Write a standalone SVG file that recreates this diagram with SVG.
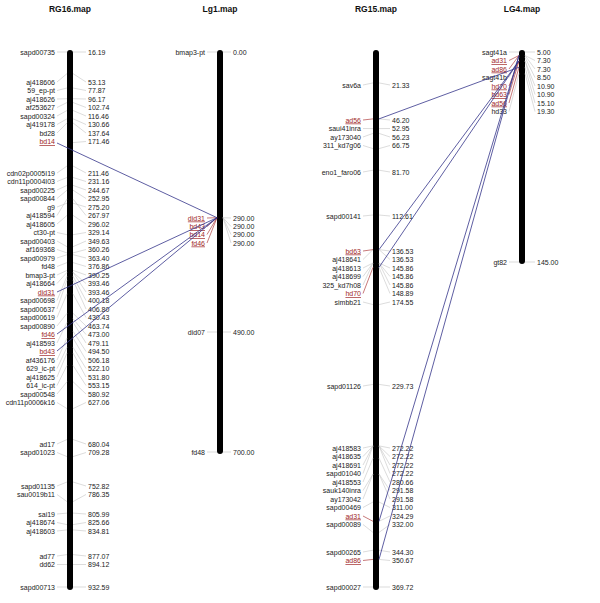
<svg xmlns="http://www.w3.org/2000/svg" width="600" height="603" viewBox="0 0 600 603">
<style>
text{font-family:"Liberation Sans",Arial,sans-serif;font-size:7px;fill:#222}
.t{font-size:8.5px;font-weight:bold;text-anchor:middle;fill:#111}
.l{text-anchor:end}
.r{fill:#a02828;text-decoration:underline}
.k{stroke:#c4c4c4;stroke-width:0.6;fill:none}
.kr{stroke:#b04040;stroke-width:0.7;fill:none}
.bar{fill:#000}
.c{stroke:#35358a;stroke-width:0.8;fill:none}
</style>
<rect width="600" height="603" fill="#fff"/>
<g id="RG16">
<text class="t" x="70" y="12">RG16.map</text>
<rect class="bar" x="67" y="50" width="6" height="540" rx="3"/>
<g class="k">
<path d="M57 52L67 52M73 52L86 52M57 82L67 73.6M73 73.6L86 82M57 90.5L67 88M73 88L86 90.5M57 99L67 98.7M73 98.7L86 99M57 107.5L67 102.5M73 102.5L86 107.5M57 116L67 110.5M73 110.5L86 116M57 124.5L67 118.8M73 118.8L86 124.5M57 133L67 122.9M73 122.9L86 133M73 142.6L86 141.5"/>
<path d="M57 173L67 166M73 166L86 173M57 181.5L67 177.5M73 177.5L86 181.5M57 190L67 185.4M73 185.4L86 190M57 198.5L67 190.2M73 190.2L86 198.5M57 207L67 203.2M73 203.2L86 207M57 215.5L67 199M73 199L86 215.5M57 224L67 215.4M73 215.4L86 224M57 232.5L67 234.7M73 234.7L86 232.5M57 241L67 246.7M73 246.7L86 241M57 249.5L67 252.9M73 252.9L86 249.5M57 258L67 254.7M73 254.7L86 258M57 266.5L67 262.6M73 262.6L86 266.5M57 275L67 270.4M73 270.4L86 275M57 283.5L67 272.3M73 272.3L86 283.5M73 272.3L86 292M57 300.5L67 276.2M73 276.2L86 300.5M57 309L67 280M73 280L86 309M57 317.5L67 293.8M73 293.8L86 317.5M57 326L67 313.3M73 313.3L86 326M73 318.7L86 334.5M57 343L67 322.3M73 322.3L86 343M73 331.2L86 351.5M57 360L67 338M73 338L86 360M57 368.5L67 347.3M73 347.3L86 368.5M57 377L67 353M73 353L86 377M57 385.5L67 365.4M73 365.4L86 385.5M57 394L67 381.7M73 381.7L86 394M57 402.5L67 408.6M73 408.6L86 402.5"/>
<path d="M57 444L67 439.5M73 439.5L86 444M57 452.5L67 456.6M73 456.6L86 452.5M57 486L67 482M73 482L86 486M57 494.5L67 501.6M73 501.6L86 494.5M57 514L67 513.1M73 513.1L86 514M57 522.5L67 524.6M73 524.6L86 522.5M57 531L67 529.9M73 529.9L86 531M57 556L67 554.6M73 554.6L86 556M57 564.5L67 564.5M73 564.5L86 564.5M57 587L67 587M73 587L86 587"/>
</g>
<g>
<text class="l" x="55" y="54.5">sapd00735</text><text x="88" y="54.5">16.19</text>
<text class="l" x="55" y="84.5">aj418606</text><text x="88" y="84.5">53.13</text>
<text class="l" x="55" y="93">59_ep-pt</text><text x="88" y="93">77.87</text>
<text class="l" x="55" y="101.5">aj418626</text><text x="88" y="101.5">96.17</text>
<text class="l" x="55" y="110">af253627</text><text x="88" y="110">102.74</text>
<text class="l" x="55" y="118.5">sapd00324</text><text x="88" y="118.5">116.46</text>
<text class="l" x="55" y="127">aj419178</text><text x="88" y="127">130.66</text>
<text class="l" x="55" y="135.5">bd28</text><text x="88" y="135.5">137.64</text>
<text class="l r" x="55" y="144">bd14</text><text x="88" y="144">171.46</text>
<text class="l" x="55" y="175.5">cdn02p0005I19</text><text x="88" y="175.5">211.46</text>
<text class="l" x="55" y="184">cdn11p0004I03</text><text x="88" y="184">231.16</text>
<text class="l" x="55" y="192.5">sapd00225</text><text x="88" y="192.5">244.67</text>
<text class="l" x="55" y="201">sapd00844</text><text x="88" y="201">252.95</text>
<text class="l" x="55" y="209.5">g9</text><text x="88" y="209.5">275.20</text>
<text class="l" x="55" y="218">aj418594</text><text x="88" y="218">267.97</text>
<text class="l" x="55" y="226.5">aj418605</text><text x="88" y="226.5">296.02</text>
<text class="l" x="55" y="235">ct30-pt</text><text x="88" y="235">329.14</text>
<text class="l" x="55" y="243.5">sapd00403</text><text x="88" y="243.5">349.63</text>
<text class="l" x="55" y="252">af169368</text><text x="88" y="252">360.26</text>
<text class="l" x="55" y="260.5">sapd00979</text><text x="88" y="260.5">363.40</text>
<text class="l" x="55" y="269">fd48</text><text x="88" y="269">376.86</text>
<text class="l" x="55" y="277.5">bmap3-pt</text><text x="88" y="277.5">390.25</text>
<text class="l" x="55" y="286">aj418664</text><text x="88" y="286">393.46</text>
<text class="l r" x="55" y="294.5">did31</text><text x="88" y="294.5">393.46</text>
<text class="l" x="55" y="303">sapd00698</text><text x="88" y="303">400.18</text>
<text class="l" x="55" y="311.5">sapd00637</text><text x="88" y="311.5">406.80</text>
<text class="l" x="55" y="320">sapd00619</text><text x="88" y="320">430.43</text>
<text class="l" x="55" y="328.5">sapd00890</text><text x="88" y="328.5">463.74</text>
<text class="l r" x="55" y="337">fd46</text><text x="88" y="337">473.00</text>
<text class="l" x="55" y="345.5">aj418593</text><text x="88" y="345.5">479.11</text>
<text class="l r" x="55" y="354">bd43</text><text x="88" y="354">494.50</text>
<text class="l" x="55" y="362.5">af436176</text><text x="88" y="362.5">506.18</text>
<text class="l" x="55" y="371">629_ic-pt</text><text x="88" y="371">522.10</text>
<text class="l" x="55" y="379.5">aj418625</text><text x="88" y="379.5">531.80</text>
<text class="l" x="55" y="388">614_ic-pt</text><text x="88" y="388">553.15</text>
<text class="l" x="55" y="396.5">sapd00548</text><text x="88" y="396.5">580.92</text>
<text class="l" x="55" y="405">cdn11p0006k16</text><text x="88" y="405">627.06</text>
<text class="l" x="55" y="446.5">ad17</text><text x="88" y="446.5">680.04</text>
<text class="l" x="55" y="455">sapd01023</text><text x="88" y="455">709.28</text>
<text class="l" x="55" y="488.5">sapd01135</text><text x="88" y="488.5">752.82</text>
<text class="l" x="55" y="497">sau0019b11</text><text x="88" y="497">786.35</text>
<text class="l" x="55" y="516.5">sai19</text><text x="88" y="516.5">805.99</text>
<text class="l" x="55" y="525">aj418674</text><text x="88" y="525">825.66</text>
<text class="l" x="55" y="533.5">aj418603</text><text x="88" y="533.5">834.81</text>
<text class="l" x="55" y="558.5">ad77</text><text x="88" y="558.5">877.07</text>
<text class="l" x="55" y="567">dd62</text><text x="88" y="567">894.12</text>
<text class="l" x="55" y="589.5">sapd00713</text><text x="88" y="589.5">932.59</text>
</g>
</g>
<g id="Lg1">
<text class="t" x="220" y="12">Lg1.map</text>
<rect class="bar" x="217" y="50" width="6" height="404" rx="3"/>
<g class="k"><path d="M207 52L217 52M223 52L231 52M223 217.7L231 218M223 217.7L231 226.5M223 217.7L231 234.5M223 217.7L231 243M207 332L217 332M223 332L231 332M207 452L217 452M223 452L231 452"/></g>
<g class="kr"><path d="M207 218L217 217.7M207 226.5L217 217.7M207 234.5L217 217.7M207 243L217 217.7"/></g>
<text class="l" x="205" y="54.5">bmap3-pt</text><text x="233" y="54.5">0.00</text>
<text class="l r" x="205" y="220.5">did31</text><text x="233" y="220.5">290.00</text>
<text class="l r" x="205" y="229">bd43</text><text x="233" y="229">290.00</text>
<text class="l r" x="205" y="237">bd14</text><text x="233" y="237">290.00</text>
<text class="l r" x="205" y="245.5">fd46</text><text x="233" y="245.5">290.00</text>
<text class="l" x="205" y="334.5">did07</text><text x="233" y="334.5">490.00</text>
<text class="l" x="205" y="454.5">fd48</text><text x="233" y="454.5">700.00</text>
</g>
<g id="RG15">
<text class="t" x="376" y="12">RG15.map</text>
<rect class="bar" x="373" y="50" width="6" height="540" rx="3"/>
<g class="k"><path d="M363 85L373 82.9M379 82.9L390 85M379 118.9L390 120M363 128.5L373 128.6M379 128.6L390 128.5M363 137L373 133.4M379 133.4L390 137M363 145.5L373 148.6M379 148.6L390 145.5M363 172L373 170.2M379 170.2L390 172M363 216L373 215M379 215L390 216M379 249.6L390 251M363 259.5L373 249.6M379 249.6L390 259.5M363 268L373 263M379 263L390 268M363 276.5L373 263M379 263L390 276.5M363 285L373 263M379 263L390 285M379 267.4L390 293.5M363 302L373 304.6M379 304.6L390 302M363 386L373 384.4M379 384.4L390 386M363 448L373 445.9M379 445.9L390 448M363 456.5L373 445.9M379 445.9L390 456.5M363 465L373 445.9M379 445.9L390 465M363 473.5L373 445.9M379 445.9L390 473.5M363 482L373 458.1M379 458.1L390 482M363 490.5L373 474M379 474L390 490.5M363 499L373 474M379 474L390 499M363 507.5L373 502M379 502L390 507.5M379 521.3L390 516M363 524.5L373 532.4M379 532.4L390 524.5M363 552L373 550.2M379 550.2L390 552M379 559.4L390 560.5M363 587L373 587M379 587L390 587"/></g>
<g class="kr"><path d="M363 120L373 118.9M363 251L373 249.6M363 293.5L373 267.4M363 516L373 521.3M363 560.5L373 559.4"/></g>
<text class="l" x="361" y="87.5">sav6a</text><text x="392" y="87.5">21.33</text>
<text class="l r" x="361" y="122.5">ad56</text><text x="392" y="122.5">46.20</text>
<text class="l" x="361" y="131">saui41inra</text><text x="392" y="131">52.95</text>
<text class="l" x="361" y="139.5">ay173040</text><text x="392" y="139.5">56.23</text>
<text class="l" x="361" y="148">311_kd7g06</text><text x="392" y="148">66.75</text>
<text class="l" x="361" y="174.5">eno1_faro06</text><text x="392" y="174.5">81.70</text>
<text class="l" x="361" y="218.5">sapd00141</text><text x="392" y="218.5">112.61</text>
<text class="l r" x="361" y="253.5">bd63</text><text x="392" y="253.5">136.53</text>
<text class="l" x="361" y="262">aj418641</text><text x="392" y="262">136.53</text>
<text class="l" x="361" y="270.5">aj418613</text><text x="392" y="270.5">145.86</text>
<text class="l" x="361" y="279">aj418699</text><text x="392" y="279">145.86</text>
<text class="l" x="361" y="287.5">325_kd7h08</text><text x="392" y="287.5">145.86</text>
<text class="l r" x="361" y="296">hd70</text><text x="392" y="296">148.89</text>
<text class="l" x="361" y="304.5">simbb21</text><text x="392" y="304.5">174.55</text>
<text class="l" x="361" y="388.5">sapd01126</text><text x="392" y="388.5">229.73</text>
<text class="l" x="361" y="450.5">aj418583</text><text x="392" y="450.5">272.22</text>
<text class="l" x="361" y="459">aj418635</text><text x="392" y="459">272.22</text>
<text class="l" x="361" y="467.5">aj418691</text><text x="392" y="467.5">272.22</text>
<text class="l" x="361" y="476">sapd01040</text><text x="392" y="476">272.22</text>
<text class="l" x="361" y="484.5">aj418553</text><text x="392" y="484.5">280.66</text>
<text class="l" x="361" y="493">sauk140inra</text><text x="392" y="493">291.58</text>
<text class="l" x="361" y="501.5">ay173042</text><text x="392" y="501.5">291.58</text>
<text class="l" x="361" y="510">sapd00469</text><text x="392" y="510">311.00</text>
<text class="l r" x="361" y="518.5">ad31</text><text x="392" y="518.5">324.29</text>
<text class="l" x="361" y="527">sapd00089</text><text x="392" y="527">332.00</text>
<text class="l" x="361" y="554.5">sapd00265</text><text x="392" y="554.5">344.30</text>
<text class="l r" x="361" y="563">ad86</text><text x="392" y="563">350.67</text>
<text class="l" x="361" y="589.5">sapd00027</text><text x="392" y="589.5">369.72</text>
</g>
<g id="LG4">
<text class="t" x="522" y="12">LG4.map</text>
<rect class="bar" x="519" y="50" width="6" height="214" rx="3"/>
<g class="k"><path d="M509 52L519 52M525 52L535 52M525 55.5L535 60.5M525 55.5L535 69M509 77.5L519 57.3M525 57.3L535 77.5M525 60.9L535 86M525 60.9L535 94.5M525 67.2L535 103M509 111.5L519 73.5M525 73.5L535 111.5M509 262L519 262M525 262L535 262"/></g>
<g class="kr"><path d="M509 60.5L519 55.5M509 69L519 55.5M509 86L519 60.9M509 94.5L519 60.9M509 103L519 67.2"/></g>
<text class="l" x="507" y="54.5">sagt41a</text><text x="537" y="54.5">5.00</text>
<text class="l r" x="507" y="63">ad31</text><text x="537" y="63">7.30</text>
<text class="l r" x="507" y="71.5">ad86</text><text x="537" y="71.5">7.30</text>
<text class="l" x="507" y="80">sagt41b</text><text x="537" y="80">8.50</text>
<text class="l r" x="507" y="88.5">hd70</text><text x="537" y="88.5">10.90</text>
<text class="l r" x="507" y="97">bd63</text><text x="537" y="97">10.90</text>
<text class="l r" x="507" y="105.5">ad56</text><text x="537" y="105.5">15.10</text>
<text class="l" x="507" y="114">hd33</text><text x="537" y="114">19.30</text>
<text class="l" x="507" y="264.5">gt82</text><text x="537" y="264.5">145.00</text>
</g>
<g id="connectors" class="c">
<path d="M57 143L217 217.7M57 292L217 217.7M57 334L217 217.7M57 351L217 217.7"/>
<path d="M379 118.9L519 67.2M379 249.6L519 60.9M379 267.4L519 60.9M379 521.3L519 55.5M379 559.4L519 55.5"/>
</g>
</svg>
